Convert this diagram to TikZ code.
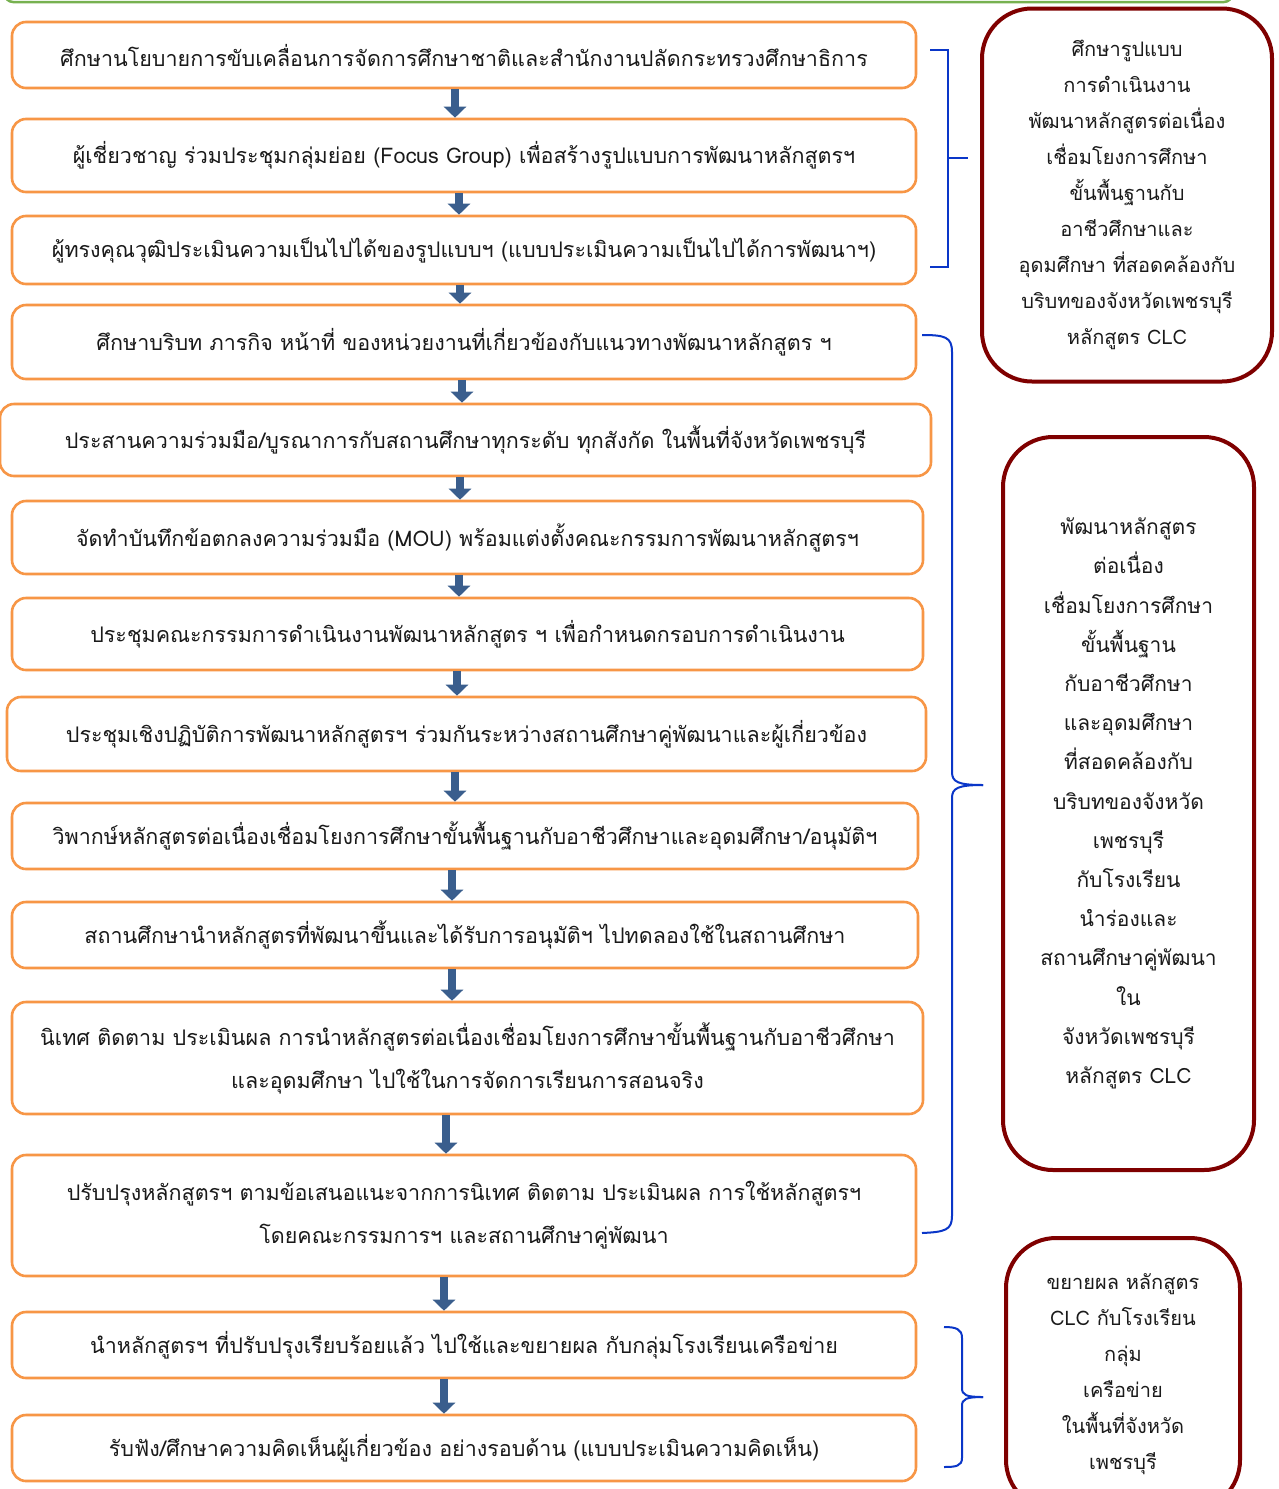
\documentclass[tikz,border=0pt]{standalone}
\usepackage{fontspec}
\setmainfont[Script=Thai]{Loma}
\usetikzlibrary{arrows.meta}
\definecolor{obord}{HTML}{F79646}
\definecolor{rbord}{HTML}{7F0000}
\definecolor{bbrace}{HTML}{0A36C8}
\definecolor{arrc}{HTML}{3A5E8D}
\definecolor{gbord}{HTML}{77B150}
\definecolor{txt}{HTML}{1A1A1A}
\tikzset{
  obox/.style={draw=obord, line width=2.6pt, rounded corners=14pt, fill=white,
    text=txt, align=center, inner sep=0pt, font=\fontsize{21.5}{43}\selectfont},
  rbox/.style={draw=rbord, line width=4pt, rounded corners=50pt, fill=white,
    text=txt, align=center, inner sep=0pt},
  flowarr/.style={draw=arrc, line width=8pt, -{Triangle[width=22pt,length=11pt]}, color=arrc},
  brc/.style={draw=bbrace, line width=2pt}
}
\begin{document}
\begin{tikzpicture}[x=1pt,y=-1pt]
\useasboundingbox (0,0) rectangle (1279,1489);
\fill[white] (0,0) rectangle (1279,1489);
% top green frame (cut off)
\draw[gbord, line width=2.5pt, rounded corners=8pt] (5,-40) rectangle (1232,2);

% main boxes
\node[obox, minimum width=904pt, minimum height=66pt] (b1) at (464,55) {ศึกษานโยบายการขับเคลื่อนการจัดการศึกษาชาติและสำนักงานปลัดกระทรวงศึกษาธิการ};
\node[obox, minimum width=904pt, minimum height=73pt] (b2) at (464,155.5) {ผู้เชี่ยวชาญ ร่วมประชุมกลุ่มย่อย (Focus Group) เพื่อสร้างรูปแบบการพัฒนาหลักสูตรฯ};
\node[obox, minimum width=904pt, minimum height=68pt] (b3) at (464,250) {ผู้ทรงคุณวุฒิประเมินความเป็นไปได้ของรูปแบบฯ (แบบประเมินความเป็นไปได้การพัฒนาฯ)};
\node[obox, minimum width=904pt, minimum height=74pt] (b4) at (464,342) {ศึกษาบริบท ภารกิจ หน้าที่ ของหน่วยงานที่เกี่ยวข้องกับแนวทางพัฒนาหลักสูตร ฯ};
\node[obox, minimum width=931pt, minimum height=72pt] (b5) at (465.5,440) {ประสานความร่วมมือ/บูรณาการกับสถานศึกษาทุกระดับ ทุกสังกัด ในพื้นที่จังหวัดเพชรบุรี};
\node[obox, minimum width=911pt, minimum height=73pt] (b6) at (467.5,537.5) {จัดทำบันทึกข้อตกลงความร่วมมือ (MOU) พร้อมแต่งตั้งคณะกรรมการพัฒนาหลักสูตรฯ};
\node[obox, minimum width=911pt, minimum height=72pt] (b7) at (467.5,634) {ประชุมคณะกรรมการดำเนินงานพัฒนาหลักสูตร ฯ เพื่อกำหนดกรอบการดำเนินงาน};
\node[obox, minimum width=919pt, minimum height=74pt] (b8) at (466.5,734) {ประชุมเชิงปฏิบัติการพัฒนาหลักสูตรฯ ร่วมกันระหว่างสถานศึกษาคู่พัฒนาและผู้เกี่ยวข้อง};
\node[obox, minimum width=906pt, minimum height=66pt] (b9) at (465,836) {วิพากษ์หลักสูตรต่อเนื่องเชื่อมโยงการศึกษาขั้นพื้นฐานกับอาชีวศึกษาและอุดมศึกษา/อนุมัติฯ};
\node[obox, minimum width=906pt, minimum height=66pt] (b10) at (465,935) {สถานศึกษานำหลักสูตรที่พัฒนาขึ้นและได้รับการอนุมัติฯ ไปทดลองใช้ในสถานศึกษา};
\node[obox, minimum width=911pt, minimum height=112pt] (b11) at (467.5,1058) {นิเทศ ติดตาม ประเมินผล การนำหลักสูตรต่อเนื่องเชื่อมโยงการศึกษาขั้นพื้นฐานกับอาชีวศึกษา\\และอุดมศึกษา ไปใช้ในการจัดการเรียนการสอนจริง};
\node[obox, minimum width=904pt, minimum height=121pt] (b12) at (464,1215.5) {ปรับปรุงหลักสูตรฯ ตามข้อเสนอแนะจากการนิเทศ ติดตาม ประเมินผล การใช้หลักสูตรฯ\\โดยคณะกรรมการฯ และสถานศึกษาคู่พัฒนา};
\node[obox, minimum width=904pt, minimum height=66pt] (b13) at (464,1345) {นำหลักสูตรฯ ที่ปรับปรุงเรียบร้อยแล้ว ไปใช้และขยายผล กับกลุ่มโรงเรียนเครือข่าย};
\node[obox, minimum width=904pt, minimum height=66pt] (b14) at (464,1448) {รับฟัง/ศึกษาความคิดเห็นผู้เกี่ยวข้อง อย่างรอบด้าน (แบบประเมินความคิดเห็น)};

% arrows
\draw[flowarr] (b1.south -| 455,0) -- (b2.north -| 455,0);
\draw[flowarr] (b2.south -| 459,0) -- (b3.north -| 459,0);
\draw[flowarr] (b3.south -| 460,0) -- (b4.north -| 460,0);
\draw[flowarr] (b4.south -| 462,0) -- (b5.north -| 462,0);
\draw[flowarr] (b5.south -| 460,0) -- (b6.north -| 460,0);
\draw[flowarr] (b6.south -| 459,0) -- (b7.north -| 459,0);
\draw[flowarr] (b7.south -| 457,0) -- (b8.north -| 457,0);
\draw[flowarr] (b8.south -| 455,0) -- (b9.north -| 455,0);
\draw[flowarr] (b9.south -| 452,0) -- (b10.north -| 452,0);
\draw[flowarr] (b10.south -| 452,0) -- (b11.north -| 452,0);
\draw[flowarr] (b11.south -| 446,0) -- (b12.north -| 446,0);
\draw[flowarr] (b12.south -| 444,0) -- (b13.north -| 444,0);
\draw[flowarr] (b13.south -| 444,0) -- (b14.north -| 444,0);

% right boxes
\node[rbox, minimum width=290pt, minimum height=373pt, font=\fontsize{20}{36}\selectfont] (r1) at (1127,195)
 {ศึกษารูปแบบ\\การดำเนินงาน\\พัฒนาหลักสูตรต่อเนื่อง\\เชื่อมโยงการศึกษา\\ขั้นพื้นฐานกับ\\อาชีวศึกษาและ\\อุดมศึกษา ที่สอดคล้องกับ\\บริบทของจังหวัดเพชรบุรี\\หลักสูตร CLC};
\node[rbox, minimum width=251pt, minimum height=733pt, font=\fontsize{21}{39.2}\selectfont] (r2) at (1128.5,803.5)
 {พัฒนาหลักสูตร\\ต่อเนื่อง\\เชื่อมโยงการศึกษา\\ขั้นพื้นฐาน\\กับอาชีวศึกษา\\และอุดมศึกษา\\ที่สอดคล้องกับ\\บริบทของจังหวัด\\เพชรบุรี\\กับโรงเรียน\\นำร่องและ\\สถานศึกษาคู่พัฒนา\\ใน\\จังหวัดเพชรบุรี\\หลักสูตร CLC};
\node[rbox, minimum width=234pt, minimum height=272pt, font=\fontsize{20}{36}\selectfont] (r3) at (1123,1374)
 {ขยายผล หลักสูตร\\CLC กับโรงเรียน\\กลุ่ม\\เครือข่าย\\ในพื้นที่จังหวัด\\เพชรบุรี};

% braces
\coordinate (k1) at (968,158);
\draw[brc] (930,50) -- (948,50) -- (948,267) -- (930,267);
\draw[brc] (948,158) -- (k1);

\coordinate (k2) at (983,785);
\draw[brc] (922,335) .. controls (945,335) and (952,337) .. (952,352) -- (952,772)
  .. controls (952,782) and (958,785) .. (k2);
\draw[brc] (k2) .. controls (958,785) and (952,788) .. (952,798) -- (952,1216)
  .. controls (952,1230) and (945,1232) .. (922,1233);

\coordinate (k3) at (983,1397);
\draw[brc] (944,1327) .. controls (956,1327) and (962,1329) .. (962,1338) -- (962,1388)
  .. controls (962,1395) and (966,1397) .. (k3);
\draw[brc] (k3) .. controls (966,1397) and (962,1399) .. (962,1406) -- (962,1458)
  .. controls (962,1466) and (956,1467) .. (944,1467);
\end{tikzpicture}
\end{document}
